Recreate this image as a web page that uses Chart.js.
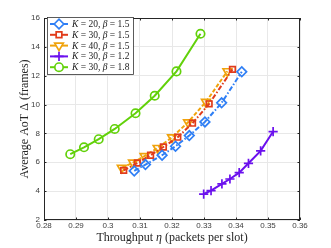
<!DOCTYPE html>
<html>
<head>
<meta charset="utf-8">
<script src="https://cdn.jsdelivr.net/npm/chart.js@4"></script>
<style>
  html, body { margin: 0; padding: 0; background: #fff; }
  #wrap { width: 331px; height: 248px; }
</style>
</head>
<body>
<div id="wrap"><canvas id="chart" width="331" height="248"></canvas></div>
<script>
// values
const xK20b15 = [0.3082, 0.3117, 0.3169, 0.3211, 0.3254, 0.3303, 0.3355, 0.3418];
const yK20b15 = [5.40, 5.84, 6.49, 7.11, 7.85, 8.80, 10.12, 12.27];
const xK30b15 = [0.3049, 0.3092, 0.3133, 0.3173, 0.3218, 0.3264, 0.3316, 0.3389];
const yK30b15 = [5.44, 5.95, 6.49, 7.06, 7.74, 8.71, 10.05, 12.44];
const xK40b15 = [0.3043, 0.3078, 0.3114, 0.3155, 0.3200, 0.3250, 0.3306, 0.3373];
const yK40b15 = [5.62, 5.97, 6.43, 6.99, 7.73, 8.77, 10.18, 12.31];
const xK30b12 = [0.3299, 0.3322, 0.3356, 0.3381, 0.3410, 0.3439, 0.3477, 0.3516];
const yK30b12 = [3.80, 4.03, 4.50, 4.84, 5.28, 5.93, 6.79, 8.13];
const xK30b18 = [0.2882, 0.2925, 0.2971, 0.3021, 0.3086, 0.3146, 0.3214, 0.3289];
const yK30b18 = [6.56, 7.04, 7.60, 8.31, 9.40, 10.61, 12.30, 14.91];

const legendK = ['20', '30', '40', '30', '30'];
const legendBeta = ['1.5', '1.5', '1.5', '1.2', '1.8'];

const xTicks = [0.28, 0.29, 0.30, 0.31, 0.32, 0.33, 0.34, 0.35, 0.36];
const yTicks = [2, 4, 6, 8, 10, 12, 14, 16];

const pts = (xs, ys) => xs.map((x, i) => ({ x: x, y: ys[i] }));

function series(label, xs, ys, color, style, dash, radius, rot) {
  return {
    label: label,
    data: pts(xs, ys),
    borderColor: color,
    backgroundColor: color,
    borderWidth: 2,
    borderDash: dash,
    pointStyle: style,
    pointRotation: rot || 0,
    pointRadius: radius,
    pointBorderWidth: 1.7,
    pointBorderColor: color,
    pointBackgroundColor: 'rgba(0,0,0,0)',
    tension: 0,
    fill: false
  };
}

const datasets = [
  series('K20b15', xK20b15, yK20b15, '#2f7ff5', 'rectRot', [5, 2, 1.5, 2], 4.8),
  series('K30b15', xK30b15, yK30b15, '#e13c1b', 'rect', [5, 2, 1.5, 2], 4),
  series('K40b15', xK40b15, yK40b15, '#f0a30c', 'triangle', [4, 2], 5, 180),
  series('K30b12', xK30b12, yK30b12, '#6b10ee', 'cross', [], 4.6),
  series('K30b18', xK30b18, yK30b18, '#62d10a', 'circle', [], 4.2)
];

const serif = '"Liberation Serif", "DejaVu Serif", serif';

// frame box, axis titles and the legend box inside the plot
const decor = {
  id: 'decor',
  afterDraw(chart) {
    const c = chart.ctx, a = chart.chartArea;
    c.save();
    c.strokeStyle = '#262626';
    c.lineWidth = 1;
    c.strokeRect(a.left + 0.5, a.top + 0.5, a.right - a.left - 1, a.bottom - a.top - 1);

    // inward tick marks like the original
    const xs = chart.scales.x, ys = chart.scales.y;
    c.beginPath();
    xTicks.forEach(v => {
      const px = Math.round(xs.getPixelForValue(v)) + 0.5;
      c.moveTo(px, a.bottom); c.lineTo(px, a.bottom - 2.5);
      c.moveTo(px, a.top); c.lineTo(px, a.top + 2.5);
    });
    yTicks.forEach(v => {
      const py = Math.round(ys.getPixelForValue(v)) + 0.5;
      c.moveTo(a.left, py); c.lineTo(a.left + 2.5, py);
      c.moveTo(a.right, py); c.lineTo(a.right - 2.5, py);
    });
    c.stroke();

    // x title
    c.fillStyle = '#262626';
    c.textBaseline = 'middle';
    const parts = [['Throughput ', 'normal'], ['η', 'italic'], [' (packets per slot)', 'normal']];
    let total = 0;
    parts.forEach(p => { c.font = p[1] + ' 12px ' + serif; total += c.measureText(p[0]).width; });
    let x = (a.left + a.right) / 2 - total / 2;
    parts.forEach(p => {
      c.font = p[1] + ' 12px ' + serif;
      c.textAlign = 'left';
      c.fillText(p[0], x, 238);
      x += c.measureText(p[0]).width;
    });

    // y title
    c.save();
    c.translate(25, (a.top + a.bottom) / 2);
    c.rotate(-Math.PI / 2);
    c.font = '12px ' + serif;
    c.textAlign = 'center';
    c.fillText('Average AoT Δ (frames)', 0, 0);
    c.restore();

    // legend
    const lx = 47, ly = 17, lw = 86, lh = 57;
    c.fillStyle = '#ffffff';
    c.fillRect(lx, ly, lw, lh);
    c.strokeStyle = '#333';
    c.lineWidth = 0.8;
    c.strokeRect(lx + 0.5, ly + 0.5, lw, lh);
    datasets.forEach((ds, i) => {
      const yy = ly + 7 + i * 10.8;
      c.strokeStyle = ds.borderColor;
      c.lineWidth = 2;
      c.setLineDash([]);
      c.beginPath();
      c.moveTo(lx + 3, yy); c.lineTo(lx + 21, yy);
      c.stroke();
      c.lineWidth = ds.pointBorderWidth;
      c.fillStyle = '#fff';
      Chart.helpers.drawPoint(c, {
        pointStyle: ds.pointStyle, rotation: ds.pointRotation,
        radius: ds.pointRadius, borderWidth: ds.pointBorderWidth
      }, lx + 12, yy);
      const segs = [['K', 'italic'], [' = ' + legendK[i] + ', ', 'normal'], ['β', 'italic'], [' = ' + legendBeta[i], 'normal']];
      let tx = lx + 25;
      c.fillStyle = '#1a1a1a';
      c.textAlign = 'left';
      segs.forEach(s => {
        c.font = s[1] + ' 9.5px ' + serif;
        c.fillText(s[0], tx, yy + 0.5);
        tx += c.measureText(s[0]).width;
      });
    });
    c.restore();
  }
};

new Chart(document.getElementById('chart'), {
  type: 'line',
  data: { datasets: datasets },
  options: {
    responsive: false,
    animation: false,
    layout: { padding: { left: 0, right: 31, top: 18, bottom: 0 } },
    plugins: { legend: { display: false }, tooltip: { enabled: false } },
    scales: {
      x: {
        type: 'linear',
        min: 0.28, max: 0.36,
        afterBuildTicks: s => { s.ticks = xTicks.map(v => ({ value: v })); },
        afterFit: s => { s.height = 28; },
        grid: { color: '#e8e8e8', drawTicks: false },
        border: { display: false },
        ticks: {
          padding: 1,
          color: '#404040',
          font: { family: 'Liberation Sans, Arial, sans-serif', size: 8 },
          callback: v => String(Number(v.toFixed(2)))
        }
      },
      y: {
        type: 'linear',
        min: 2, max: 16,
        afterBuildTicks: s => { s.ticks = yTicks.map(v => ({ value: v })); },
        afterFit: s => { s.width = 44; },
        grid: { color: '#e8e8e8', drawTicks: false },
        border: { display: false },
        ticks: {
          padding: 4,
          color: '#404040',
          font: { family: 'Liberation Sans, Arial, sans-serif', size: 8 }
        }
      }
    }
  },
  plugins: [decor]
});
</script>
</body>
</html>
